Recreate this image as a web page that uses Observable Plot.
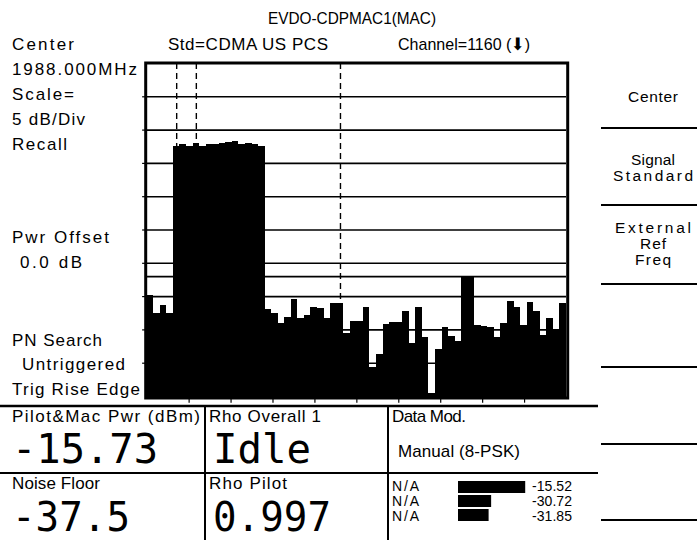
<!DOCTYPE html>
<html>
<head>
<meta charset="utf-8">
<script src="https://cdn.jsdelivr.net/npm/d3@7"></script>
<script src="https://cdn.jsdelivr.net/npm/@observablehq/plot@0.6"></script>
<style>
  html, body { margin: 0; padding: 0; background: #fff; }
  #chart { position: relative; width: 697px; height: 540px; }
  #mini { position: absolute; left: 458px; top: 479px; width: 102px; height: 45px; }
</style>
</head>
<body>
<div id="chart"><div id="mini"></div></div>
<script>
// ---- data ----
// code-domain power per code (dBm), 64 codes, read from the screen (5 dB/div, top = 0)
const power = [
  -34.8, -37.5, -36.3, -37.5,
  -12.5, -12.1, -12.4, -12.0, -12.4, -12.1, -12.1, -12.0, -11.8, -11.7, -12.1, -12.0, -12.1, -12.4,
  -37.0, -37.5, -39.0, -38.1, -35.4, -38.3, -37.8, -36.7, -36.8, -38.3, -36.1, -36.1,
  -40.6, -38.7, -38.7, -36.6, -45.6, -43.7, -39.2, -38.9, -38.9, -37.2, -42.0, -36.7,
  -41.1, -49.6, -43.0, -39.6, -41.0, -41.7, -32.1, -32.1, -39.3, -39.5, -39.7, -41.2,
  -39.0, -35.7, -36.6, -39.3, -35.9, -37.2, -40.8, -38.3, -40.0, -36.0
];
const markerCodes = [4, 7, 29];
const gridLevels = [-45, -40, -35, -30, -25, -20, -15, -10, -5];
const threshold = [-32];
const divisionTicks = [6.4, 12.8, 19.2, 25.6, 32, 38.4, 44.8, 51.2, 57.6];

const macLabels = ["N/A", "N/A", "N/A"];
const macValues = [-15.52, -30.72, -31.85];

const title = "EVDO-CDPMAC1(MAC)";
const headerTexts = ["Center", "Std=CDMA US PCS", "Channel=1160 (\u2B07)"];
const leftTexts = ["1988.000MHz", "Scale=", "5 dB/Div", "Recall", "Pwr Offset", "0.0 dB", "PN Search", "Untriggered", "Trig Rise Edge"];
const menuTexts = [["Center"], ["Signal", "Standard"], ["External", "Ref", "Freq"]];
const panelLabels = ["Pilot&Mac Pwr (dBm)", "Rho Overall 1", "Data Mod.", "Noise Floor", "Rho Pilot"];
const panelValues = ["-15.73", "Idle", "-37.5", "0.997"];
const dataMod = "Manual (8-PSK)";

// ---- main chart ----
const idx = power.map((d, i) => i);
const svg = Plot.plot({
  width: 697,
  height: 540,
  marginLeft: 146.7,
  marginRight: 131,
  marginTop: 63,
  marginBottom: 144,
  x: {domain: [0, 64], axis: null},
  y: {domain: [-50, 0], axis: null},
  style: {background: "white"},
  marks: [
    Plot.ruleY(gridLevels, {stroke: "black", strokeWidth: 1.6}),
    Plot.ruleY(gridLevels, {x1: -0.7, x2: 0, stroke: "black", strokeWidth: 1.2}),
    Plot.ruleY(threshold, {stroke: "black", strokeWidth: 1.6}),
    Plot.ruleX(markerCodes, {x: d => d + 0.5, stroke: "black", strokeWidth: 1.4, strokeDasharray: "6,4"}),
    Plot.rect(idx, {x1: i => i, x2: i => i + 1, y1: -50.3, y2: i => power[i], fill: "black", shapeRendering: "crispEdges"}),
    Plot.ruleX(divisionTicks, {y1: -50.3, y2: -51, stroke: "black", strokeWidth: 1.2}),
    Plot.frame({stroke: "black", strokeWidth: 3, insetLeft: -1.5, insetTop: -0.5, insetBottom: -1.5, insetRight: -1.2})
  ]
});
svg.setAttribute("font-family", "Liberation Sans, Arial, sans-serif");
const chart = document.getElementById("chart");
chart.insertBefore(svg, chart.firstChild);

const root = d3.select(svg);
const g = root.append("g").attr("font-family", "Liberation Sans, Arial, sans-serif").attr("fill", "black");

function txt(s, x, y, opts = {}) {
  const t = g.append("text").attr("x", x).attr("y", y).text(s)
    .attr("font-size", opts.size || 17)
    .attr("text-anchor", opts.anchor || "start");
  if (opts.family) t.attr("font-family", opts.family);
  if (opts.len) t.attr("textLength", opts.len).attr("lengthAdjust", opts.adj || "spacing");
  return t;
}
function line(x1, y1, x2, y2, w = 2) {
  g.append("line").attr("x1", x1).attr("y1", y1).attr("x2", x2).attr("y2", y2)
    .attr("stroke", "black").attr("stroke-width", w);
}

// header
txt(title, 352, 24, {anchor: "middle", len: 168, adj: "spacingAndGlyphs"});
txt(headerTexts[0], 12, 50, {len: 62});
txt(headerTexts[1], 168, 50, {len: 160});
txt(headerTexts[2], 398, 50, {len: 132, adj: "spacingAndGlyphs"});

// left column
const leftPos = [[12, 75], [12, 100], [12, 125], [12, 150], [12, 243], [20, 268], [12, 346], [22, 370], [12, 395]];
const leftLen = [125, 62, 73, 55, 97, 62, 90, 103, 128];
leftTexts.forEach((s, i) => txt(s, leftPos[i][0], leftPos[i][1], {len: leftLen[i]}));

// right soft-key menu
[128, 205, 284, 367, 444, 520].forEach(y => line(601, y, 697, y, 2));
const menuLen = [[50], [44, 80], [76, 26, 36]];
const menuYs = [[102], [165, 181], [233, 249, 265]];
menuTexts.forEach((arr, i) => arr.forEach((s, j) =>
  txt(s, 653, menuYs[i][j], {anchor: "middle", size: 15.5, len: menuLen[i][j]})));

// bottom panels
line(0, 406, 598, 406, 2.5);
line(0, 473, 598, 473, 2);
line(205, 406, 205, 540, 2);
line(388, 406, 388, 540, 2);
txt(panelLabels[0], 12, 422, {len: 188});
txt(panelLabels[1], 209, 422, {len: 112});
txt(panelLabels[2], 392, 422, {len: 74});
txt(panelLabels[3], 12, 489, {len: 88});
txt(panelLabels[4], 209, 489, {len: 78});
const mono = "DejaVu Sans Mono, monospace";
txt(panelValues[0], 12, 463, {size: 40, family: mono, len: 146, adj: "spacingAndGlyphs"});
txt(panelValues[1], 213, 463, {size: 40, family: mono, len: 98, adj: "spacingAndGlyphs"});
txt(panelValues[2], 12, 531, {size: 40, family: mono, len: 118, adj: "spacingAndGlyphs"});
txt(panelValues[3], 213, 531, {size: 40, family: mono, len: 118, adj: "spacingAndGlyphs"});
txt(dataMod, 398, 457, {len: 122});

// MAC index rows
const rowY = [491, 506, 521];
macLabels.forEach((s, i) => txt(s, 392, rowY[i], {size: 14, len: 27}));
macValues.forEach((v, i) => txt(v.toFixed(2), 572, rowY[i], {size: 14, anchor: "end", len: 40}));
const mini = Plot.plot({
  width: 102, height: 45,
  marginLeft: 0, marginRight: 0, marginTop: 0, marginBottom: 0,
  x: {domain: [-45.5, 0], axis: null},
  y: {domain: [0, 1, 2], axis: null, padding: 0.14},
  style: {background: "transparent"},
  marks: [
    Plot.barX(macValues.map((v, i) => ({i, v})), {x1: -45.5, x2: "v", y: "i", fill: "black"})
  ]
});
document.getElementById("mini").appendChild(mini);
</script>
</body>
</html>
